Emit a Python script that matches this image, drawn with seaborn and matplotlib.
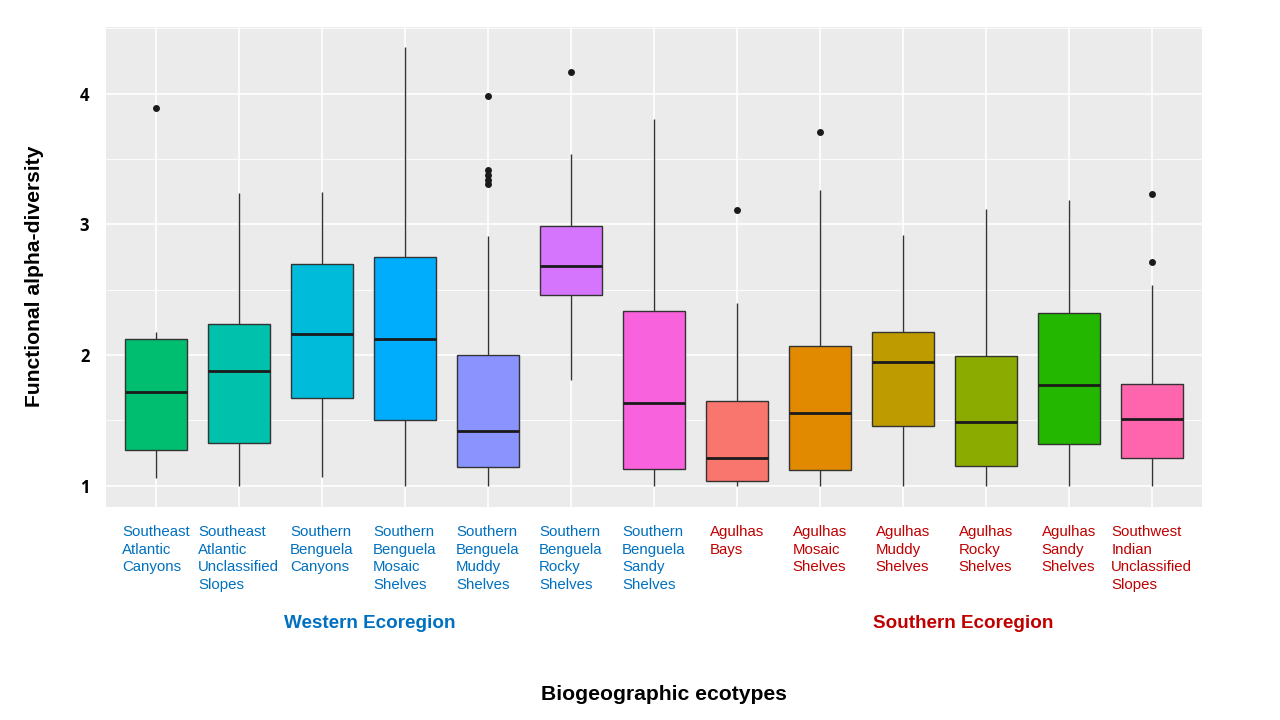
import pandas as pd
import matplotlib
matplotlib.use("Agg")
import matplotlib.pyplot as plt
from matplotlib.ticker import MultipleLocator
import seaborn as sns

# ecotypes in plotting order
ecotypes = [
    "Southeast\nAtlantic\nCanyons",
    "Southeast\nAtlantic\nUnclassified\nSlopes",
    "Southern\nBenguela\nCanyons",
    "Southern\nBenguela\nMosaic\nShelves",
    "Southern\nBenguela\nMuddy\nShelves",
    "Southern\nBenguela\nRocky\nShelves",
    "Southern\nBenguela\nSandy\nShelves",
    "Agulhas\nBays",
    "Agulhas\nMosaic\nShelves",
    "Agulhas\nMuddy\nShelves",
    "Agulhas\nRocky\nShelves",
    "Agulhas\nSandy\nShelves",
    "Southwest\nIndian\nUnclassified\nSlopes",
]
ecoregion = ["Western"] * 7 + ["Southern"] * 6

# five-number summaries
whisker_low = [1.06, 1.00, 1.07, 1.00, 1.00, 1.81, 1.00, 1.00, 1.00, 1.00, 1.00, 1.00, 1.00]
q1 = [1.27, 1.33, 1.67, 1.50, 1.14, 2.46, 1.13, 1.04, 1.12, 1.46, 1.15, 1.32, 1.21]
median = [1.72, 1.88, 2.16, 2.12, 1.42, 2.68, 1.63, 1.21, 1.56, 1.95, 1.49, 1.77, 1.51]
q3 = [2.12, 2.24, 2.70, 2.75, 2.00, 2.99, 2.34, 1.65, 2.07, 2.18, 1.99, 2.32, 1.78]
whisker_high = [2.18, 3.24, 3.25, 4.36, 2.91, 3.54, 3.81, 2.40, 3.26, 2.92, 3.12, 3.19, 2.54]

# outliers
outlier_idx = [0, 4, 4, 4, 4, 4, 5, 7, 8, 12, 12]
outlier_val = [3.89, 3.98, 3.42, 3.38, 3.34, 3.31, 4.17, 3.11, 3.71, 3.23, 2.71]

# ggplot hue palette, as assigned in the original
box_colors = ["#00BE70", "#00C1AB", "#00BBDA", "#00ACFC", "#8B93FF", "#D575FE", "#F962DD",
              "#F8766D", "#E18A00", "#BE9C00", "#8CAB00", "#24B700", "#FF65AC"]
region_colors = {"Western": "#0070C0", "Southern": "#C00000"}

rows = []
for i, eco in enumerate(ecotypes):
    for v in (whisker_low[i], q1[i], median[i], q3[i], whisker_high[i]):
        rows.append({"ecotype": eco, "value": v})
df = pd.DataFrame(rows)
out_df = pd.DataFrame({"ecotype": [ecotypes[i] for i in outlier_idx], "value": outlier_val})

sns.set_theme(style="darkgrid", rc={"axes.facecolor": "#EBEBEB", "grid.color": "white"})
plt.rcParams["font.family"] = ["Liberation Sans", "DejaVu Sans"]

fig = plt.figure(figsize=(12.8, 7.2), dpi=100)
ax = fig.add_axes([0.0828, 0.2954, 0.856, 0.667])

sns.boxplot(data=df, x="ecotype", y="value", hue="ecotype", order=ecotypes, hue_order=ecotypes,
            palette=box_colors, saturation=1, width=0.75, whis=(0, 100), showfliers=False,
            showcaps=False, linecolor="#333333", linewidth=1.0, legend=False,
            medianprops={"color": "#1a1a1a", "linewidth": 2.0}, ax=ax)
sns.stripplot(data=out_df, x="ecotype", y="value", order=ecotypes, jitter=False,
              color="#1a1a1a", size=5, linewidth=0, ax=ax)

ax.set_xlim(-0.6, 12.6)
ax.set_ylim(0.835, 4.51)
ax.yaxis.set_major_locator(MultipleLocator(1))
ax.yaxis.set_minor_locator(MultipleLocator(0.5))
ax.grid(True, which="major", axis="both", color="white", linewidth=1.2)
ax.grid(True, which="minor", axis="y", color="white", linewidth=0.6)
ax.set_axisbelow(True)
for s in ax.spines.values():
    s.set_visible(False)

ax.tick_params(axis="both", which="major", length=4, width=1, color="#333333")
ax.tick_params(axis="y", which="minor", length=0)
ax.tick_params(axis="x", pad=9)
ax.tick_params(axis="y", pad=8)

ax.set_yticks([1, 2, 3, 4])
ax.set_yticklabels(["1", "2", "3", "4"], fontsize=12, fontweight="bold",
                   family=["Open Sans", "DejaVu Sans"], color="black")
ax.set_xticks(range(len(ecotypes)))
ax.set_xticklabels(ecotypes, fontsize=10.8, linespacing=1.32)
for lab, reg in zip(ax.get_xticklabels(), ecoregion):
    lab.set_color(region_colors[reg])
    lab.set_multialignment("left")
    lab.set_verticalalignment("top")

ax.set_xlabel("")
ax.set_ylabel("")

fig.text(35 / 1280, 1 - 276 / 720, "Functional alpha-diversity", rotation=90,
         ha="center", va="center", fontsize=15.2, fontweight="bold", color="black")
fig.text(370 / 1280, 1 - 623 / 720, "Western Ecoregion", ha="center", va="center",
         fontsize=13.6, fontweight="bold", color=region_colors["Western"])
fig.text(963 / 1280, 1 - 623 / 720, "Southern Ecoregion", ha="center", va="center",
         fontsize=13.6, fontweight="bold", color=region_colors["Southern"])
fig.text(664 / 1280, 1 - 694 / 720, "Biogeographic ecotypes", ha="center", va="center",
         fontsize=15.2, fontweight="bold", color="black")

fig.savefig("out.png", dpi=100, facecolor="white")
